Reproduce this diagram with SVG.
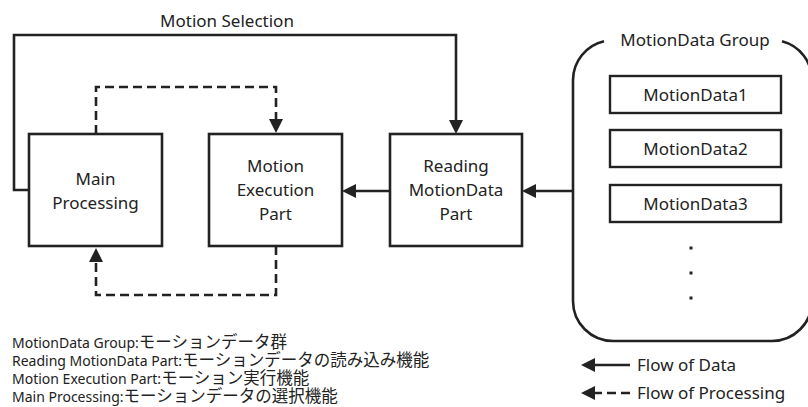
<svg xmlns="http://www.w3.org/2000/svg" width="808" height="407" viewBox="0 0 808 407">
<style>
.box{fill:#fff;stroke:#222;stroke-width:2.6}
.sm{fill:#fff;stroke:#222;stroke-width:2.4}
.ln{fill:none;stroke:#222;stroke-width:2.6}
.ds{fill:none;stroke:#222;stroke-width:2.6;stroke-dasharray:9 5}
.t{font-family:"Noto Sans","Open Sans","Liberation Sans",sans-serif;font-size:17px;fill:#222;text-anchor:middle}
.lg{font-family:"Noto Sans","Noto Sans CJK JP",sans-serif;font-size:14px;fill:#222}
.jp{font-family:"Noto Sans CJK JP",sans-serif;font-size:16.5px}
.lf{font-family:"Noto Sans","Open Sans",sans-serif;font-size:17px;fill:#222}
</style>
<defs>
<marker id="ah" viewBox="0 0 14 14" refX="6" refY="7" markerWidth="14" markerHeight="14" markerUnits="userSpaceOnUse" orient="auto">
<path d="M0,0 L14,7 L0,14 z" fill="#222"/>
</marker>
</defs>
<rect width="808" height="407" fill="#fff"/>
<g id="connectors">
<path class="ln" d="M29,190 H14 V35 H456 V126" marker-end="url(#ah)"/>
<path class="ln" d="M390,191 H350" marker-end="url(#ah)"/>
<path class="ln" d="M573,191 H530" marker-end="url(#ah)"/>
<path class="ds" d="M96,134 V87 H276 V125" marker-end="url(#ah)"/>
<path class="ds" d="M276,246 V295 H96 V256" marker-end="url(#ah)"/>
<text class="t" x="227" y="27">Motion Selection</text>
</g>
<g id="main-processing">
<rect class="box" x="29" y="134" width="133" height="112"/>
<text class="t" x="95.5" y="185">Main</text>
<text class="t" x="95.5" y="209">Processing</text>
</g>
<g id="motion-execution">
<rect class="box" x="209" y="134" width="133" height="112"/>
<text class="t" x="275.5" y="172">Motion</text>
<text class="t" x="275.5" y="196">Execution</text>
<text class="t" x="275.5" y="220">Part</text>
</g>
<g id="reading-motiondata">
<rect class="box" x="390" y="134" width="132" height="112"/>
<text class="t" x="456" y="172">Reading</text>
<text class="t" x="456" y="196">MotionData</text>
<text class="t" x="456" y="220">Part</text>
</g>
<g id="motiondata-group">
<path class="ln" d="M604,41.3 A40,40 0 0 0 573,80 V301 A40,40 0 0 0 613,341 H772 A40,40 0 0 0 812,301 V80 A40,40 0 0 0 782,41.3"/>
<text class="t" x="695" y="46">MotionData Group</text>
</g>
<g id="motiondata1">
<rect class="sm" x="610" y="76" width="171" height="37"/>
<text class="t" x="695.5" y="100.5">MotionData1</text>
</g>
<g id="motiondata2">
<rect class="sm" x="610" y="130" width="171" height="37"/>
<text class="t" x="695.5" y="154.5">MotionData2</text>
</g>
<g id="motiondata3">
<rect class="sm" x="610" y="185" width="171" height="37"/>
<text class="t" x="695.5" y="209.5">MotionData3</text>
</g>
<g id="dots" fill="#222">
<rect x="689.5" y="246.5" width="3" height="3"/>
<rect x="689.5" y="271.5" width="3" height="3"/>
<rect x="689.5" y="296.5" width="3" height="3"/>
</g>
<g id="legend">
<text class="lg" x="12" y="348">MotionData Group:<tspan class="jp">モーションデータ群</tspan></text>
<text class="lg" x="12" y="366">Reading MotionData Part:<tspan class="jp">モーションデータの読み込み機能</tspan></text>
<text class="lg" x="12" y="384">Motion Execution Part:<tspan class="jp">モーション実行機能</tspan></text>
<text class="lg" x="12" y="402">Main Processing:<tspan class="jp">モーションデータの選択機能</tspan></text>
<path class="ln" d="M630,365 H589" marker-end="url(#ah)"/>
<path class="ds" d="M630,393 H589" marker-end="url(#ah)"/>
<text class="lf" x="637" y="371">Flow of Data</text>
<text class="lf" x="637" y="399">Flow of Processing</text>
</g>
</svg>
